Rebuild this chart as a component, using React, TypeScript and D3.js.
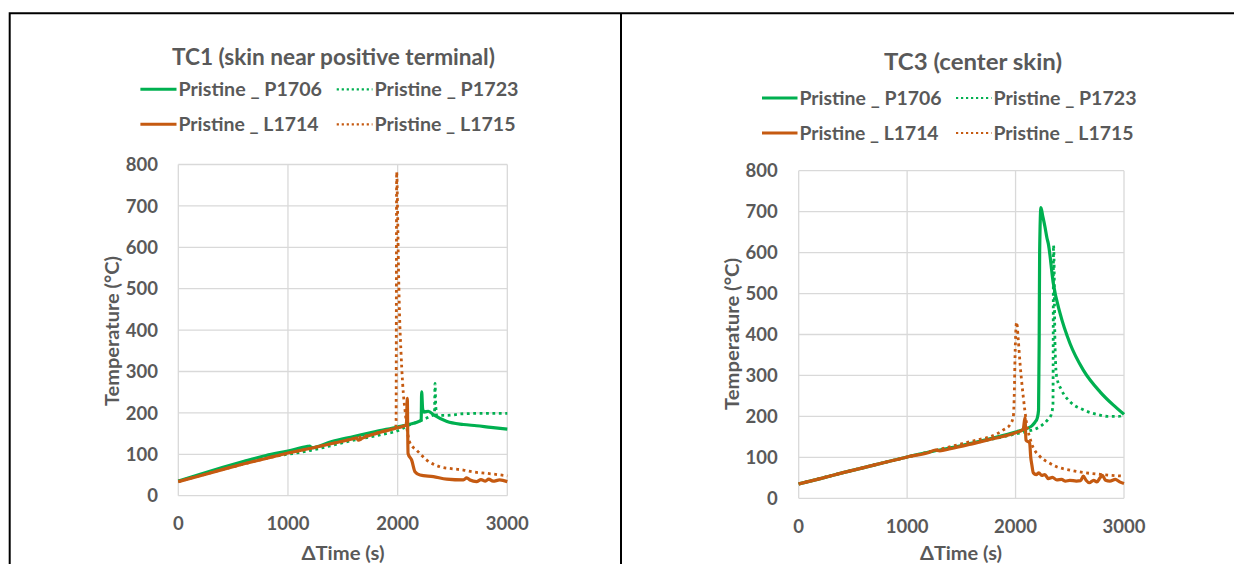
import React from 'react';
import * as d3 from 'd3';

type Pt = [number, number];

const X_TICKS = [0, 1000, 2000, 3000];
const Y_TICKS = [0, 100, 200, 300, 400, 500, 600, 700, 800];
const SERIES_NAMES = ['Pristine _ P1706', 'Pristine _ P1723', 'Pristine _ L1714', 'Pristine _ L1715'];
const SERIES_COLORS = ['#00B050', '#00B050', '#C55A11', '#C55A11'];
const SERIES_DOTTED = [false, true, false, true];
const TITLES = ['TC1 (skin near positive terminal)', 'TC3 (center skin)'];
const X_LABEL = '\u0394Time (s)';
const Y_LABEL = 'Temperature (\u00B0C)';

// TC1 (skin near positive terminal)
const TC1_P1706: Pt[] = [[0,35],[200,52],[400,68],[600,83],[800,97],[1000,108],[1180,119],[1200,120],[1215,116],[1400,131],[1600,143],[1800,155],[2000,166],[2100,172],[2200,180],[2215,183],[2219,251],[2228,210],[2240,202],[2280,204],[2330,195],[2450,179],[2600,172],[2720,169],[2850,165],[3000,161]];
const TC1_P1723: Pt[] = [[0,35],[400,64],[800,91],[1200,109],[1600,134],[1840,147],[2020,159],[2083,168],[2200,180],[2300,192],[2336,197],[2341,271],[2348,215],[2358,194],[2450,194],[2600,198],[2800,199],[3000,199]];
const TC1_L1714: Pt[] = [[0,34],[200,48],[400,63],[600,77],[800,90],[1000,103],[1200,114],[1400,126],[1600,138],[1627,140],[1640,134],[1680,139],[1800,150],[2000,164],[2080,171],[2088,235],[2095,102],[2128,86],[2158,58],[2204,50],[2326,46],[2447,40],[2600,38],[2630,43],[2660,38],[2720,34],[2760,39],[2800,35],[2830,40],[2870,35],[2930,38],[3000,34]];
const TC1_L1715: Pt[] = [[0,34],[400,63],[800,90],[1200,114],[1600,138],[1900,158],[1982,166],[1986,178],[1991,782],[2000,680],[2005,593],[2018,432],[2030,350],[2037,311],[2052,247],[2068,205],[2083,167],[2113,127],[2174,110],[2265,86],[2386,70],[2500,65],[2600,62],[2700,57],[2812,54],[3000,48]];

// TC3 (center skin)
const TC3_P1706: Pt[] = [[0,35],[200,48],[400,62],[600,75],[800,88],[1000,101],[1200,113],[1400,123],[1600,135],[1800,148],[2000,162],[2100,170],[2150,177],[2180,186],[2200,196],[2212,215],[2218,400],[2222,600],[2234,710],[2250,690],[2271,663],[2290,635],[2302,622],[2348,525],[2410,452],[2502,378],[2625,313],[2779,260],[2900,228],[3000,205]];
const TC3_P1723: Pt[] = [[0,35],[400,62],[800,88],[1200,113],[1600,134],[2000,157],[2100,163],[2225,175],[2300,193],[2330,205],[2345,230],[2350,618],[2356,560],[2359,470],[2362,400],[2367,345],[2379,297],[2425,264],[2502,236],[2625,216],[2750,205],[2850,200],[2950,200],[3000,204]];
const TC3_L1714: Pt[] = [[0,35],[200,48],[400,62],[600,75],[800,88],[1000,101],[1200,112],[1260,118],[1300,116],[1400,121],[1600,133],[1800,146],[2000,160],[2070,168],[2087,197],[2096,142],[2130,135],[2140,100],[2150,82],[2164,62],[2190,58],[2215,62],[2241,56],[2270,58],[2302,48],[2340,51],[2380,45],[2425,46],[2460,42],[2500,44],[2560,42],[2600,43],[2625,54],[2650,44],[2680,38],[2720,44],[2750,40],[2779,50],[2800,56],[2830,44],[2870,42],[2920,46],[2960,40],[3000,36]];
const TC3_L1715: Pt[] = [[0,35],[400,62],[800,88],[1200,113],[1500,133],[1700,146],[1764,150],[1887,167],[1950,180],[1979,199],[1989,264],[1995,346],[2010,430],[2025,387],[2041,330],[2071,248],[2102,183],[2148,134],[2225,102],[2300,88],[2379,77],[2500,69],[2625,63],[2800,58],[3000,54]];

const TC1_SERIES = [TC1_P1706, TC1_P1723, TC1_L1714, TC1_L1715];
const TC3_SERIES = [TC3_P1706, TC3_P1723, TC3_L1714, TC3_L1715];

const FONT = 'Lato, "Open Sans", sans-serif';
const TEXT = '#595959';
const GRID = '#D9D9D9';

interface PanelGeom {
  title: string;
  titleX: number; titleY: number; titleW: number;
  legLineX: [number, number]; legTextX: [number, number];
  legLineY: [number, number]; legBase: [number, number];
  legW: number[];
  x0: number; x1: number; y0: number; y1: number;
  yTickRight: number; xTickBase: number;
  xTitle: [number, number, number]; yTitle: [number, number, number];
  series: Pt[][];
}

function Panel({ g }: { g: PanelGeom }) {
  const x = d3.scaleLinear().domain([0, 3000]).range([g.x0, g.x1]);
  const y = d3.scaleLinear().domain([0, 800]).range([g.y0, g.y1]);
  const line = d3.line<Pt>().x(d => x(d[0])).y(d => y(d[1])).curve(d3.curveMonotoneX);
  const legendItems = SERIES_NAMES.map((name, i) => {
    const row = Math.floor(i / 2);
    const col = i % 2;
    const lx = col === 0 ? g.legLineX[0] : g.legLineX[1];
    const tx = col === 0 ? g.legTextX[0] : g.legTextX[1];
    const ly = g.legLineY[row];
    return (
      <g key={name}>
        <line x1={lx} x2={tx - 2} y1={ly} y2={ly} stroke={SERIES_COLORS[i]}
          strokeWidth={SERIES_DOTTED[i] ? 2.2 : 3}
          strokeDasharray={SERIES_DOTTED[i] ? '2.2 2.8' : undefined} />
        <text x={tx} y={g.legBase[row]} fill={TEXT} fontSize={19} fontWeight="bold"
          fontFamily={FONT} textLength={g.legW[i]} lengthAdjust="spacingAndGlyphs">{name}</text>
      </g>
    );
  });
  return (
    <g>
      <text x={g.titleX} y={g.titleY} textAnchor="middle" fill={TEXT} fontSize={22} fontWeight="bold"
        fontFamily={FONT} textLength={g.titleW} lengthAdjust="spacingAndGlyphs">{g.title}</text>
      {legendItems}
      {Y_TICKS.map(t => (
        <line key={'gy' + t} x1={g.x0} x2={g.x1} y1={y(t)} y2={y(t)} stroke={GRID} strokeWidth={1.3} />
      ))}
      {X_TICKS.map(t => (
        <line key={'gx' + t} x1={x(t)} x2={x(t)} y1={g.y0} y2={g.y1} stroke={GRID} strokeWidth={1.3} />
      ))}
      {Y_TICKS.map(t => (
        <text key={'ty' + t} x={g.yTickRight} y={y(t)} dy="0.36em" textAnchor="end" fill={TEXT}
          fontSize={18.5} fontWeight="bold" fontFamily={FONT}>{t}</text>
      ))}
      {X_TICKS.map(t => (
        <text key={'tx' + t} x={x(t)} y={g.xTickBase} textAnchor="middle" fill={TEXT}
          fontSize={18.5} fontWeight="bold" fontFamily={FONT}>{t}</text>
      ))}
      <text x={g.xTitle[0]} y={g.xTitle[1]} textAnchor="middle" fill={TEXT} fontSize={19}
        fontWeight="bold" fontFamily={FONT} textLength={g.xTitle[2]} lengthAdjust="spacingAndGlyphs">{X_LABEL}</text>
      <text transform={`translate(${g.yTitle[0]},${g.yTitle[1]}) rotate(-90)`} x={0} y={0} dy="0.36em"
        textAnchor="middle" fill={TEXT} fontSize={19} fontWeight="bold" fontFamily={FONT}
        textLength={g.yTitle[2]} lengthAdjust="spacingAndGlyphs">{Y_LABEL}</text>
      {g.series.map((s, i) => (
        <path key={'s' + i} d={line(s) || ''} fill="none" stroke={SERIES_COLORS[i]}
          strokeWidth={SERIES_DOTTED[i] ? 2.8 : 3.2} strokeLinejoin="round"
          strokeDasharray={SERIES_DOTTED[i] ? '2.8 3.6' : undefined} />
      ))}
    </g>
  );
}

const LEFT: PanelGeom = {
  title: TITLES[0], titleX: 333.4, titleY: 65, titleW: 323,
  legLineX: [140.4, 336.7], legTextX: [178.5, 374.5],
  legLineY: [89.3, 124.3], legBase: [96.3, 130.6],
  legW: [143.5, 144, 140, 141],
  x0: 178.3, x1: 507.3, y0: 495.7, y1: 164.5,
  yTickRight: 158, xTickBase: 529.5,
  xTitle: [343, 560, 83], yTitle: [111.7, 331, 150],
  series: TC1_SERIES,
};

const RIGHT: PanelGeom = {
  title: TITLES[1], titleX: 973, titleY: 70, titleW: 178,
  legLineX: [762, 956], legTextX: [799.5, 993.5],
  legLineY: [98, 133], legBase: [105, 140],
  legW: [142, 143, 139, 140],
  x0: 798.7, x1: 1124, y0: 498.3, y1: 170.7,
  yTickRight: 777.7, xTickBase: 532.5,
  xTitle: [961, 560, 82], yTitle: [731.7, 334, 152],
  series: TC3_SERIES,
};

export default function App() {
  return (
    <svg width={1234} height={564} style={{ position: 'absolute', left: 0, top: 0, background: '#fff' }}>
      <rect x={0} y={0} width={1234} height={564} fill="#fff" />
      <path d="M9.7,564 V13.3 H1234" fill="none" stroke="#000" strokeWidth={2} />
      <line x1={621} x2={621} y1={13.3} y2={564} stroke="#000" strokeWidth={2} />
      <Panel g={LEFT} />
      <Panel g={RIGHT} />
    </svg>
  );
}
